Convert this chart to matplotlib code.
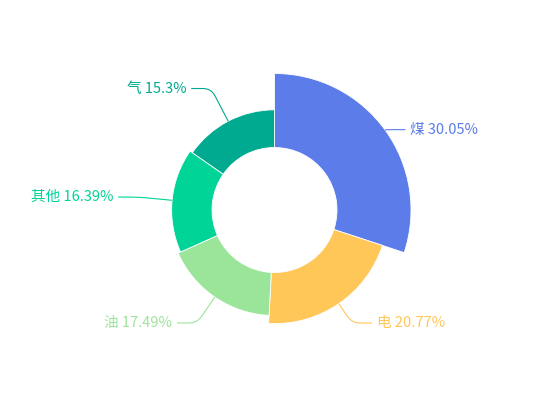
import numpy as np
import matplotlib.pyplot as plt
from matplotlib.patches import Wedge
from matplotlib.path import Path
from matplotlib.patches import PathPatch

plt.rcParams['font.family'] = ['Noto Sans CJK SC', 'DejaVu Sans']

names = ['煤', '电', '油', '其他', '气']
values = [30.05, 20.77, 17.49, 16.39, 15.3]
colors = ['#5b7ce9', '#ffc658', '#9be59b', '#00d496', '#00aa90']

W, H = 550, 420
cx, cy = 274.5, 210
r_in = 62.5
r_max = 136.5

fig = plt.figure(figsize=(W / 100, H / 100), dpi=100)
ax = fig.add_axes([0, 0, 1, 1])
ax.set_xlim(0, W)
ax.set_ylim(0, H)
ax.axis('off')

total = sum(values)
vmax = max(values)
start = 90.0
for name, v, c in zip(names, values, colors):
    sweep = v / total * 360
    t1, t2 = start - sweep, start
    r_out = r_in + (r_max - r_in) * v / vmax
    ax.add_patch(Wedge((cx, cy), r_out, t1, t2, width=r_out - r_in,
                       facecolor=c, edgecolor='white', linewidth=0.6))

    # label line
    mid = np.radians((t1 + t2) / 2)
    dx, dy = np.cos(mid), np.sin(mid)
    p0 = np.array([cx + r_out * dx, cy + r_out * dy])
    corner = np.array([cx + (r_max + 0.5) * dx, cy + (r_max + 0.5) * dy])
    side = 1 if dx >= 0 else -1
    p2 = corner + np.array([side * 20, 0])
    d1 = np.linalg.norm(p0 - corner)
    a = corner + (p0 - corner) * (min(8, d1) / d1) if d1 > 0 else corner
    b = corner + (p2 - corner) * (8 / 20)
    path = Path([p0, a, corner, b, p2],
                [Path.MOVETO, Path.LINETO, Path.CURVE3, Path.CURVE3, Path.LINETO])
    ax.add_patch(PathPatch(path, facecolor='none', edgecolor=c, linewidth=0.8))
    ax.text(p2[0] + side * 5, p2[1], f'{name} {v:g}%', color=c, fontsize=10.5,
            ha='left' if side > 0 else 'right', va='center')

    start = t1

fig.savefig('out.png', dpi=100)
